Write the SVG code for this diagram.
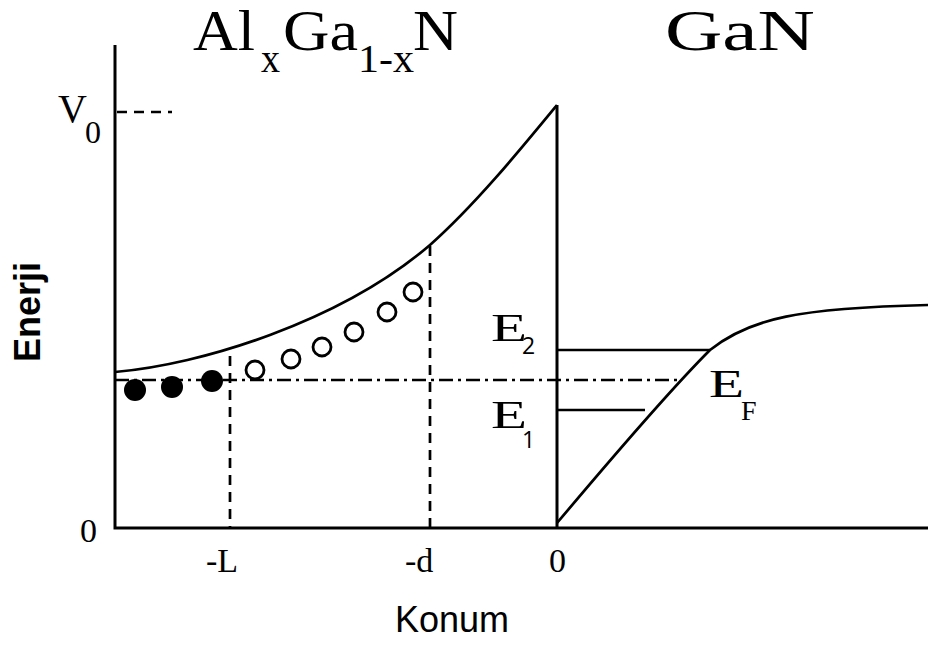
<svg xmlns="http://www.w3.org/2000/svg" width="928" height="646" viewBox="0 0 928 646">
<style>
.ax{fill:none;stroke:#000;stroke-width:3}
.ln{fill:none;stroke:#000;stroke-width:2.7}
.dash{fill:none;stroke:#000;stroke-width:2.7;stroke-dasharray:10,7}
.dd{fill:none;stroke:#000;stroke-width:2.7;stroke-dasharray:14,5,3,5}
.serif{font-family:"Liberation Serif","Times New Roman",serif;fill:#000}
.sans{font-family:"Liberation Sans",Arial,sans-serif;fill:#000}
.cal{font-family:"Open Sans","Noto Sans",sans-serif;fill:#000}
.oc{fill:#fff;stroke:#000;stroke-width:2.8}
.fc{fill:#000}
</style>
<rect width="928" height="646" fill="#fff"/>
<g id="axes">
<path class="ax" d="M115,45 V528 H928"/>
<path class="ax" d="M557,105 V528"/>
</g>
<g id="connectors">
<path class="dash" d="M117,112 H172"/>
<path class="ln" d="M115,372 C200,365 340,322 430,245 C475,205 520,150 557,105"/>
<path class="dash" d="M230,356 V528"/>
<path class="dash" d="M430,246 V528"/>
<path class="dd" d="M115,380 H680"/>
<path class="ln" d="M557,350 H710"/>
<path class="ln" d="M557,410 H645"/>
<path class="ln" d="M557,523 C610,460 670,390 710,350 C750,318 800,308 928,305"/>
</g>
<g id="electrons">
<circle class="fc" cx="135" cy="390" r="11"/>
<circle class="fc" cx="172" cy="387" r="11"/>
<circle class="fc" cx="212" cy="381" r="11"/>
<circle class="oc" cx="255" cy="370" r="9"/>
<circle class="oc" cx="291" cy="359" r="9"/>
<circle class="oc" cx="322" cy="347" r="9"/>
<circle class="oc" cx="354" cy="332" r="9"/>
<circle class="oc" cx="387" cy="312" r="9"/>
<circle class="oc" cx="413" cy="292" r="9"/>
</g>
<g id="labels">
<text class="serif" font-size="56" x="193" y="50" textLength="62" lengthAdjust="spacingAndGlyphs">Al</text>
<text class="serif" font-size="40" x="261" y="72" textLength="19" lengthAdjust="spacingAndGlyphs">x</text>
<text class="serif" font-size="56" x="283" y="50" textLength="75" lengthAdjust="spacingAndGlyphs">Ga</text>
<text class="serif" font-size="40" x="358" y="72" textLength="56" lengthAdjust="spacingAndGlyphs">1-x</text>
<text class="serif" font-size="56" x="413" y="50" textLength="45" lengthAdjust="spacingAndGlyphs">N</text>
<text class="serif" font-size="56" x="665" y="50" textLength="150" lengthAdjust="spacingAndGlyphs">GaN</text>
<text class="serif" font-size="40" x="58" y="122">V</text>
<text class="serif" font-size="32" x="85" y="143">0</text>
<text class="serif" font-size="34" x="80" y="542">0</text>
<text class="serif" font-size="34" x="206" y="572">-L</text>
<text class="serif" font-size="34" x="405" y="572">-d</text>
<text class="serif" font-size="34" x="549" y="572">0</text>
<text class="sans" font-size="36" x="395" y="632">Konum</text>
<text class="sans" font-size="36" font-weight="bold" transform="translate(40,312) rotate(-90)" text-anchor="middle">Enerji</text>
<text class="serif" font-size="40" x="491" y="341" textLength="36" lengthAdjust="spacingAndGlyphs">E</text>
<text class="cal" font-size="23" x="522" y="354">2</text>
<text class="serif" font-size="40" x="491" y="428" textLength="36" lengthAdjust="spacingAndGlyphs">E</text>
<text class="cal" font-size="23" x="522" y="448">1</text>
<text class="serif" font-size="40" x="709" y="397" textLength="35" lengthAdjust="spacingAndGlyphs">E</text>
<text class="serif" font-size="28" x="741" y="420">F</text>
</g>
</svg>
